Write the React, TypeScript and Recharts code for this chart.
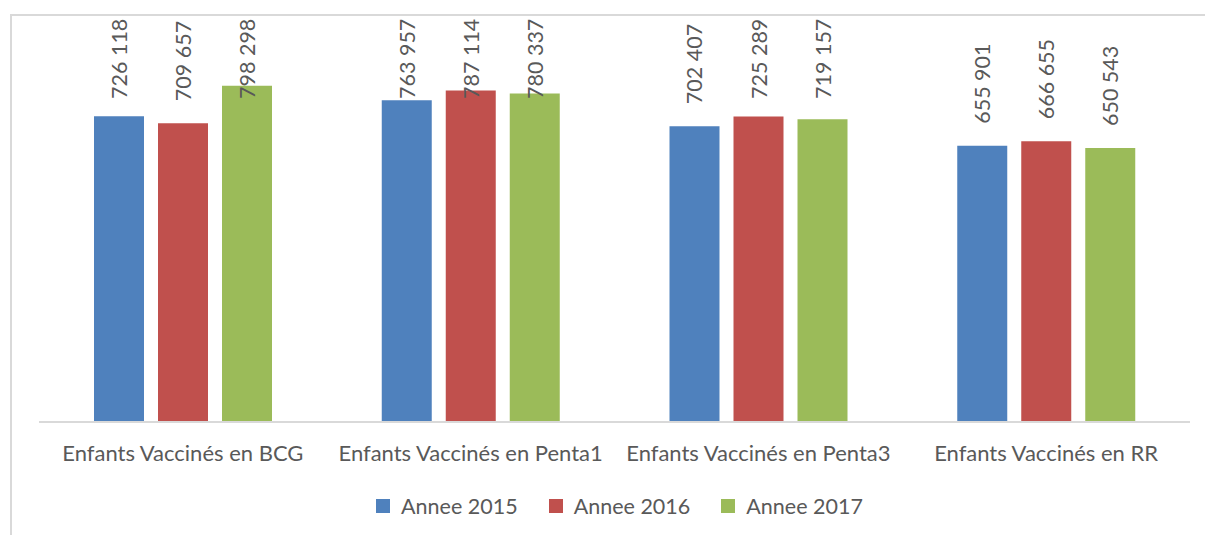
import { Bar, BarChart, LabelList, XAxis, YAxis } from "recharts";

const categories = [
  "Enfants Vaccinés en BCG",
  "Enfants Vaccinés en Penta1",
  "Enfants Vaccinés en Penta3",
  "Enfants Vaccinés en RR",
];
const annee2015 = [726118, 763957, 702407, 655901];
const annee2016 = [709657, 787114, 725289, 666655];
const annee2017 = [798298, 780337, 719157, 650543];

const series = [
  { key: "a2015", name: "Annee 2015", color: "#4F81BD", values: annee2015 },
  { key: "a2016", name: "Annee 2016", color: "#C0504D", values: annee2016 },
  { key: "a2017", name: "Annee 2017", color: "#9BBB59", values: annee2017 },
];

const data = categories.map((name, i) => {
  const row: Record<string, string | number> = { name };
  series.forEach((s) => (row[s.key] = s.values[i]));
  return row;
});

const font = "Lato, 'Open Sans', sans-serif";
const textColor = "#595959";
const gridColor = "#D9D9D9";

const fmt = (v: number) => String(v).replace(/\B(?=(\d{3})+(?!\d))/g, " ");

// rotated value labels sit above the bar, pushed down if they would leave the plot
function ValueLabel(props: any) {
  const { x, y, width, value } = props;
  const cx = x + width / 2;
  const by = Math.max(y - 22, 99);
  return (
    <text
      x={cx}
      y={by}
      transform={`rotate(-90, ${cx}, ${by})`}
      textAnchor="start"
      dominantBaseline="central"
      fill={textColor}
      fontSize={21.5}
      fontFamily={font}
    >
      {fmt(value)}
    </text>
  );
}

function ChartLegend() {
  return (
    <div
      style={{
        position: "absolute",
        left: 17,
        top: 493,
        width: 1205,
        display: "flex",
        justifyContent: "center",
        gap: 31,
        fontFamily: font,
        fontSize: 21.5,
        color: textColor,
      }}
    >
      {series.map((s) => (
        <div key={s.key} style={{ display: "flex", alignItems: "center", gap: 11 }}>
          <span style={{ width: 14, height: 14, background: s.color, display: "inline-block" }} />
          <span>{s.name}</span>
        </div>
      ))}
    </div>
  );
}

export default function App() {
  return (
    <div style={{ position: "absolute", left: 0, top: 0, width: 1205, height: 535, background: "#fff", overflow: "hidden" }}>
      <div
        style={{
          position: "absolute",
          left: 10,
          top: 14,
          width: 1300,
          height: 600,
          borderLeft: `2px solid ${gridColor}`,
          borderTop: `2px solid ${gridColor}`,
        }}
      />
      <BarChart
        width={1205}
        height={535}
        data={data}
        margin={{ top: 43, right: 15, bottom: 83, left: 39 }}
        barSize={50}
        barGap={14}
        style={{ position: "absolute", left: 0, top: 0 }}
      >
        <YAxis hide domain={[0, 900000]} />
        <XAxis
          dataKey="name"
          height={30}
          tickLine={false}
          axisLine={{ stroke: gridColor, strokeWidth: 2 }}
          tick={{ fill: textColor, fontSize: 22, fontFamily: font }}
          tickMargin={17}
          interval={0}
        />
        {series.map((s) => (
          <Bar key={s.key} dataKey={s.key} name={s.name} fill={s.color} isAnimationActive={false}>
            <LabelList dataKey={s.key} content={<ValueLabel />} />
          </Bar>
        ))}
      </BarChart>
      <ChartLegend />
    </div>
  );
}
